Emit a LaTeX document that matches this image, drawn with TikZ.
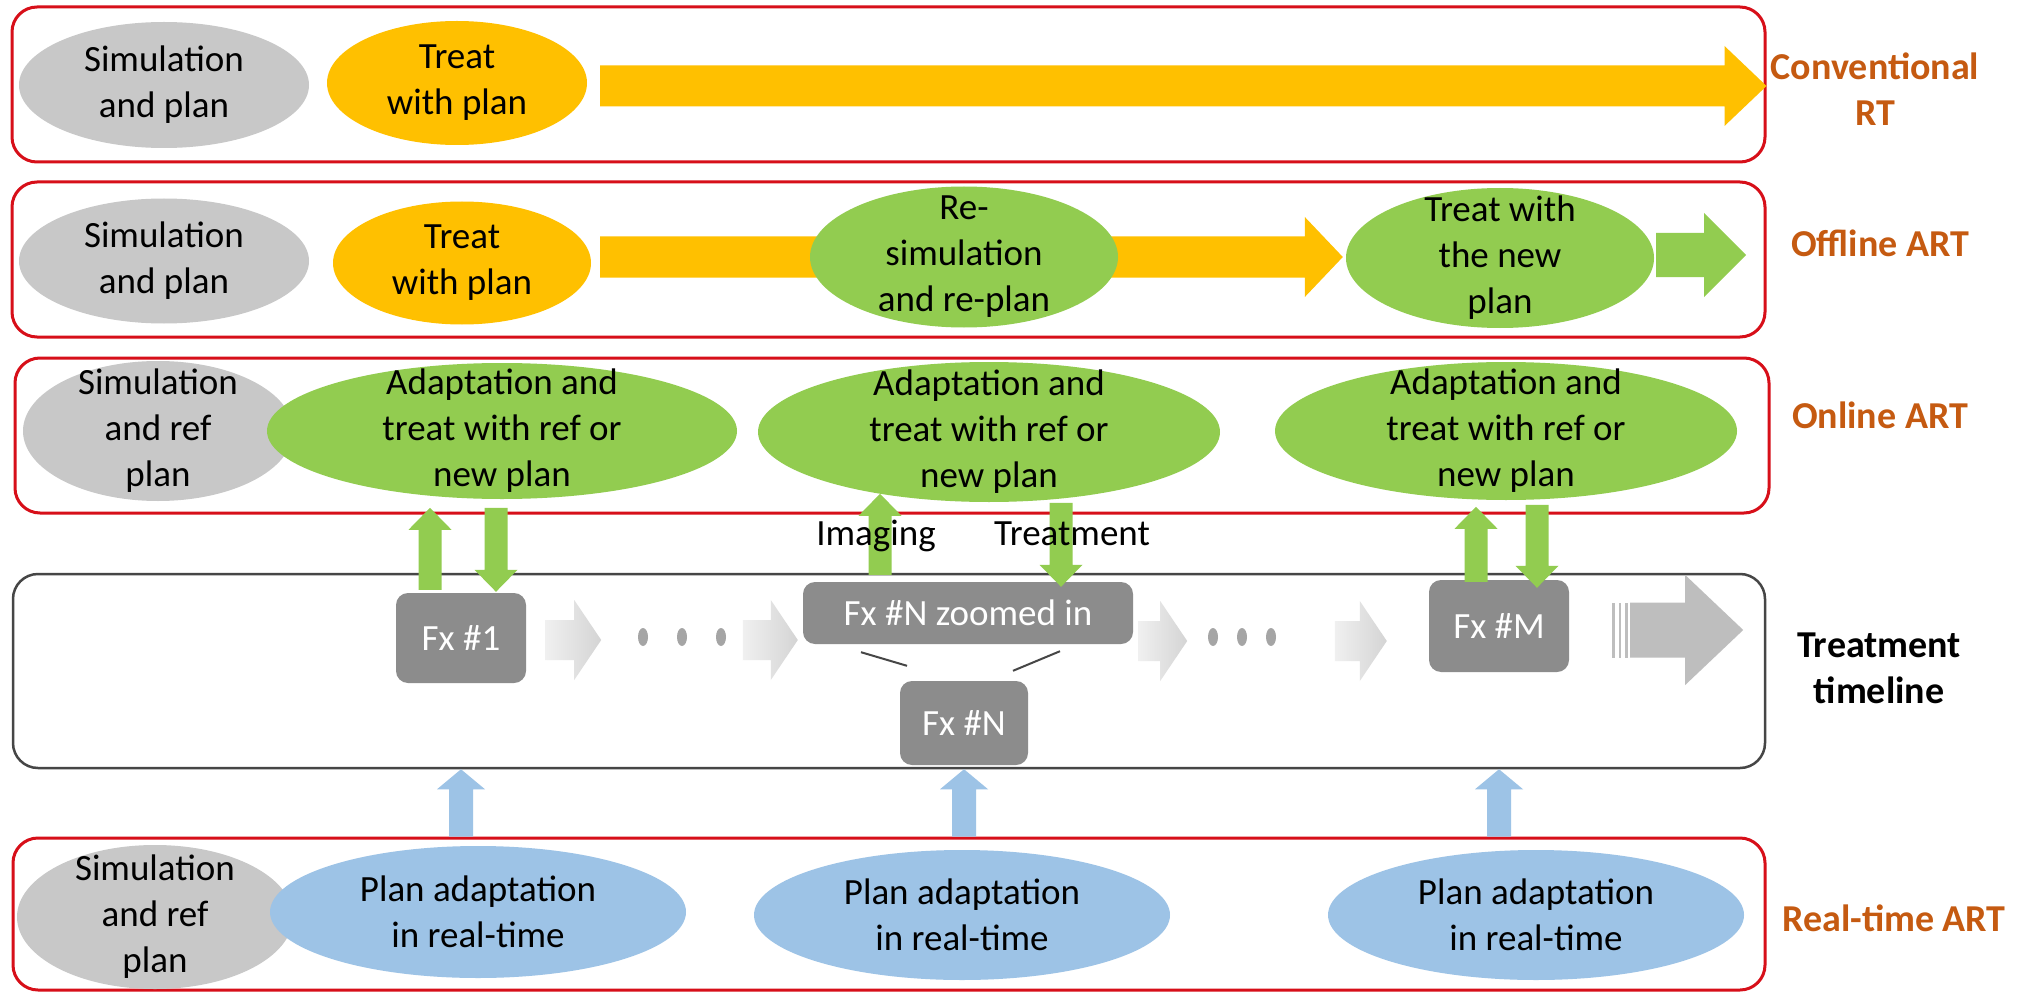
\documentclass[tikz,border=0pt]{standalone}
\usepackage{fontspec}
\setmainfont{Carlito}
\usetikzlibrary{shapes.geometric,calc}
\definecolor{redbox}{RGB}{215,15,25}
\definecolor{orng}{RGB}{255,192,0}
\definecolor{grn}{RGB}{146,204,80}
\definecolor{blu}{RGB}{157,195,230}
\definecolor{gry}{RGB}{200,200,200}
\definecolor{fxg}{RGB}{140,140,140}
\definecolor{lbl}{RGB}{197,90,17}
\definecolor{tlg}{RGB}{212,212,212}
\definecolor{tll}{RGB}{240,240,240}
\definecolor{bigg}{RGB}{190,190,190}
\definecolor{dk}{RGB}{70,70,70}
\definecolor{dotc}{RGB}{165,165,165}
% block arrow between two named points: #1 path options, #2 start, #3 end,
% #4 shaft half width, #5 head half width, #6 head length
\newcommand\blockarrow[6]{%
  \path (#2) coordinate (bas) (#3) coordinate (bae);%
  \pgfpointdiff{\pgfpointanchor{bas}{center}}{\pgfpointanchor{bae}{center}}%
  \pgfgetlastxy{\bax}{\bay}%
  \pgfmathsetmacro\baang{atan2(\bay,\bax)}%
  \pgfmathsetmacro\balen{abs(\bax)+abs(\bay)}%
  \path[#1,shift={(bas)},rotate=\baang]
    (0,#4) -- ({\balen-#6},#4) -- ({\balen-#6},#5) -- (\balen,0)
    -- ({\balen-#6},-#5) -- ({\balen-#6},-#4) -- (0,-#4) -- cycle;%
}
\newcommand\elln[7]{\node[ell, fill=#2, minimum width=#5pt, minimum height=#6pt,
  label={[txt,name=#1t]center:{#7}}] (#1) at (#3,#4) {};}
\begin{document}
\begin{tikzpicture}[x=1pt,y=-1pt,
  font=\fontsize{37}{46}\selectfont,
  rowbox/.style={draw=redbox, line width=3pt, rounded corners=25pt, inner sep=0pt},
  tlbox/.style={draw=dk, line width=2.5pt, rounded corners=25pt, inner sep=0pt},
  ell/.style={ellipse, inner sep=0pt},
  txt/.style={align=center, inner sep=0pt, text=black},
  fxbox/.style={rounded corners=12pt, fill=fxg, text=white, inner sep=0pt},
  lab/.style={text=lbl, align=center, inner sep=0pt, font=\fontsize{38}{46}\selectfont\bfseries},
  tlab/.style={text=black, align=center, inner sep=0pt, font=\fontsize{38}{46}\selectfont\bfseries},
  note/.style={text=black, inner sep=0pt, anchor=base},
  zoomline/.style={draw=dk, line width=2pt},
]
\fill[white] (0,0) rectangle (2020,992);
\useasboundingbox (0,0) rectangle (2020,992);

% ---- row boxes
\node[rowbox, minimum width=1753pt, minimum height=155pt] (r1) at (888.5,84.5) {};
\node[rowbox, minimum width=1753pt, minimum height=155pt] (r2) at (888.5,259.5) {};
\node[rowbox, minimum width=1754pt, minimum height=155pt] (r3) at (892,435.5) {};
\node[tlbox, minimum width=1752pt, minimum height=194pt] (tl) at (889,671) {};
\node[rowbox, minimum width=1752pt, minimum height=152pt] (r5) at (889,914) {};

% ---- row 1: conventional RT
\elln{sim1}{gry}{164}{85}{290}{126}{Simulation\\and plan}
\elln{treat1}{orng}{457}{83}{260}{124}{Treat\\with plan}
\blockarrow{fill=orng}{$(treat1.east)+(13,3)$}{$(r1.east)+(0,1.5)$}{20.5}{40}{42}

% ---- row 2: offline ART
\elln{sim2}{gry}{164}{261}{290}{125}{Simulation\\and plan}
\elln{treat2}{orng}{462}{263}{258}{123}{Treat\\with plan}
\node[ell, minimum width=308pt, minimum height=140pt] (newplanpos) at (1500,258) {};
\blockarrow{fill=orng}{$(treat2.east)+(9,-6)$}{$(newplanpos.west)+(-3,-1)$}{20.5}{40}{38}
\elln{resim}{grn}{964}{257}{308}{141}{Re-\\simulation\\and re-plan}
\elln{newplan}{grn}{1500}{258}{308}{140}{Treat with\\the new\\plan}
\blockarrow{fill=grn}{$(newplan.east)+(2,-3)$}{$(newplan.east)+(92,-3)$}{22}{42}{42}

% ---- row 3: online ART
\elln{sim3}{gry}{158}{431}{270}{140}{Simulation\\and ref\\plan}
\elln{on1}{grn}{502}{431}{470}{136}{Adaptation and\\treat with ref or\\new plan}
\elln{on2}{grn}{989}{432}{462}{140}{Adaptation and\\treat with ref or\\new plan}
\elln{on3}{grn}{1506}{431}{462}{138}{Adaptation and\\treat with ref or\\new plan}

% ---- row 5: real-time ART
\elln{sim5}{gry}{155}{917}{276}{144}{Simulation\\and ref\\plan}
\elln{pa1}{blu}{478}{912}{416}{132}{Plan adaptation\\in real-time}
\elln{pa2}{blu}{962}{915}{416}{130}{Plan adaptation\\in real-time}
\elln{pa3}{blu}{1536}{915}{416}{130}{Plan adaptation\\in real-time}

% ---- treatment timeline
\node[fxbox, minimum width=130pt, minimum height=90pt] (fx1) at (461,638) {Fx \#1};
\node[fxbox, minimum width=330pt, minimum height=62pt] (fxNz) at (968,613) {Fx \#N zoomed in};
\node[fxbox, minimum width=128pt, minimum height=84pt] (fxN) at (964,723) {Fx \#N};
\node[fxbox, minimum width=140pt, minimum height=92pt] (fxM) at (1499,626) {Fx \#M};

\blockarrow{left color=tll, right color=tlg}{$(fx1.east)+(19,2)$}{$(fx1.east)+(75,2)$}{20}{40}{27}
\blockarrow{left color=tll, right color=tlg}{$(fxNz.west)+(-60,27)$}{$(fxNz.west)+(-5,27)$}{20}{40}{27}
\blockarrow{left color=tll, right color=tlg}{$(fxNz.east)+(5,28)$}{$(fxNz.east)+(54,28)$}{20}{40}{27}
\blockarrow{left color=tll, right color=tlg}{$(fxM.west)+(-94,15)$}{$(fxM.west)+(-42,15)$}{20}{40}{27}

\foreach \dx in {643,682,721,1213,1242,1271}
  \fill[dotc] (\dx,637) ellipse [x radius=5pt, y radius=9pt];

% striped grey arrow at the end of the timeline
\foreach \sx in {43,49.5,56}
  \fill[bigg] ($(fxM.east)+(\sx,-23.5)$) rectangle +(2.5,55);
\blockarrow{fill=bigg}{$(fxM.east)+(61,4)$}{$(fxM.east)+(174,4)$}{27.5}{55}{58}

\draw[zoomline] ($(fxNz.south)+(-107,8)$) -- ($(fxN.north)+(-57,-15)$);
\draw[zoomline] ($(fxNz.south)+(92,7)$) -- ($(fxN.north)+(49,-10)$);

% ---- green arrows between online ART and timeline
\blockarrow{fill=grn}{$(fx1.north)+(-31,-3)$}{$(fx1.north)+(-31,-85)$}{11.5}{21.5}{22}
\blockarrow{fill=grn}{$(fx1.north)+(35,-85)$}{$(fx1.north)+(35,-1)$}{11.5}{21.5}{22}
\blockarrow{fill=grn}{$(fxNz.north)+(-88,-7)$}{$(fxNz.north)+(-88,-88)$}{11.5}{21.5}{22}
\blockarrow{fill=grn}{$(fxNz.north)+(93,-79)$}{$(fxNz.north)+(93,5)$}{11.5}{21.5}{22}
\blockarrow{fill=grn}{$(fxM.north)+(-23,2)$}{$(fxM.north)+(-23,-73)$}{11.5}{21.5}{22}
\blockarrow{fill=grn}{$(fxM.north)+(38,-75)$}{$(fxM.north)+(38,8)$}{11.5}{21.5}{22}

\node[note] (img) at (876,545) {Imaging};
\node[note] (trt) at (1072,545) {Treatment};

% ---- blue arrows from real-time ART to timeline
\blockarrow{fill=blu}{fx1 |- r5.north}{fx1 |- tl.south}{12}{24}{20}
\blockarrow{fill=blu}{fxN |- r5.north}{fxN |- tl.south}{12}{24}{20}
\blockarrow{fill=blu}{fxM |- r5.north}{fxM |- tl.south}{12}{24}{20}

% ---- row labels
\node[lab] (lconv) at (1875,89) {Conventional\\RT};
\node[lab] (loff) at (1880,243) {Offline ART};
\node[lab] (lon) at (1880,415) {Online ART};
\node[tlab] (ltl) at (1879,668) {Treatment\\timeline};
\node[lab] (lrt) at (1894,918) {Real-time ART};
\end{tikzpicture}
\end{document}
